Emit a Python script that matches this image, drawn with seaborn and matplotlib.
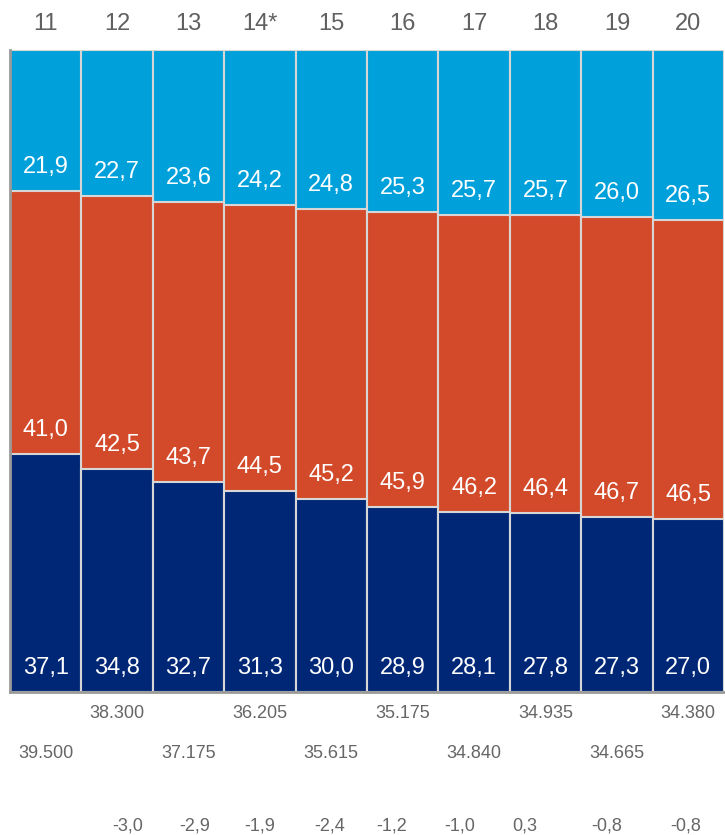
import matplotlib
matplotlib.use("Agg")
import matplotlib.pyplot as plt
import matplotlib.transforms as mtransforms
import seaborn as sns
import pandas as pd
import numpy as np

# ---- data ----
years = ["11", "12", "13", "14*", "15", "16", "17", "18", "19", "20"]
navy_vals = [37.1, 34.8, 32.7, 31.3, 30.0, 28.9, 28.1, 27.8, 27.3, 27.0]
orange_vals = [41.0, 42.5, 43.7, 44.5, 45.2, 45.9, 46.2, 46.4, 46.7, 46.5]
blue_vals = [21.9, 22.7, 23.6, 24.2, 24.8, 25.3, 25.7, 25.7, 26.0, 26.5]
totals_row1 = ["", "38.300", "", "36.205", "", "35.175", "", "34.935", "", "34.380"]
totals_row2 = ["39.500", "", "37.175", "", "35.615", "", "34.840", "", "34.665", ""]
changes = ["-3,0", "-2,9", "-1,9", "-2,4", "-1,2", "-1,0", "0,3", "-0,8", "-0,8"]
change_x = [1.15, 2.09, 3.00, 3.98, 4.85, 5.80, 6.71, 7.85, 8.97]

NAVY = "#002776"
ORANGE = "#d34a2a"
BLUE = "#00a0da"
EDGE = "#d6d6d6"
GRAY = "#606060"

sns.set_theme(style="white")
plt.rcParams["font.family"] = ["Liberation Sans", "DejaVu Sans"]

df = pd.DataFrame({"year": years, "navy": navy_vals, "orange": orange_vals, "blue": blue_vals})
total = df["navy"] + df["orange"] + df["blue"]
# 100% stacked: normalise each column to 100
df["c1"] = df["navy"] / total * 100
df["c2"] = (df["navy"] + df["orange"]) / total * 100
df["c3"] = total / total * 100

fig = plt.figure(figsize=(7.25, 8.35), dpi=100)
ax = fig.add_axes([10 / 725, (835 - 692) / 835, 714 / 725, 642 / 835])

for col, color in [("c3", BLUE), ("c2", ORANGE), ("c1", NAVY)]:
    sns.barplot(data=df, x="year", y=col, color=color, width=1.0, saturation=1,
                edgecolor=EDGE, linewidth=1.5, ax=ax, zorder=2)

ax.set_xlim(-0.5, len(years) - 0.5)
ax.set_ylim(0, 100)
ax.set_ylabel("")
ax.set_xlabel("")
ax.set_yticks([])

ax.xaxis.tick_top()
ax.tick_params(axis="x", length=0, pad=11, labelsize=17, labelcolor=GRAY)

for s in ["top", "right"]:
    ax.spines[s].set_visible(False)
ax.spines["left"].set_color("#9a9a9a")
ax.spines["left"].set_linewidth(2)
ax.spines["bottom"].set_color("#9a9a9a")
ax.spines["bottom"].set_linewidth(2)

off = 24 / 642 * 100
for i in range(len(years)):
    ax.text(i, off, f"{navy_vals[i]:.1f}".replace(".", ","), ha="center", va="center",
            color="white", fontsize=17, zorder=5)
    ax.text(i, df["c1"][i] + off, f"{orange_vals[i]:.1f}".replace(".", ","), ha="center",
            va="center", color="white", fontsize=17, zorder=5)
    ax.text(i, df["c2"][i] + off, f"{blue_vals[i]:.1f}".replace(".", ","), ha="center",
            va="center", color="white", fontsize=17, zorder=5)

trans = mtransforms.blended_transform_factory(ax.transData, ax.transAxes)
for i in range(len(years)):
    if totals_row1[i]:
        ax.text(i, -21 / 642, totals_row1[i], transform=trans, ha="center", va="center",
                color="#666666", fontsize=13)
    if totals_row2[i]:
        ax.text(i, -61 / 642, totals_row2[i], transform=trans, ha="center", va="center",
                color="#666666", fontsize=13)
for xv, t in zip(change_x, changes):
    ax.text(xv, -134 / 642, t, transform=trans, ha="center", va="center",
            color="#666666", fontsize=13)

fig.savefig("out.png", dpi=100)
